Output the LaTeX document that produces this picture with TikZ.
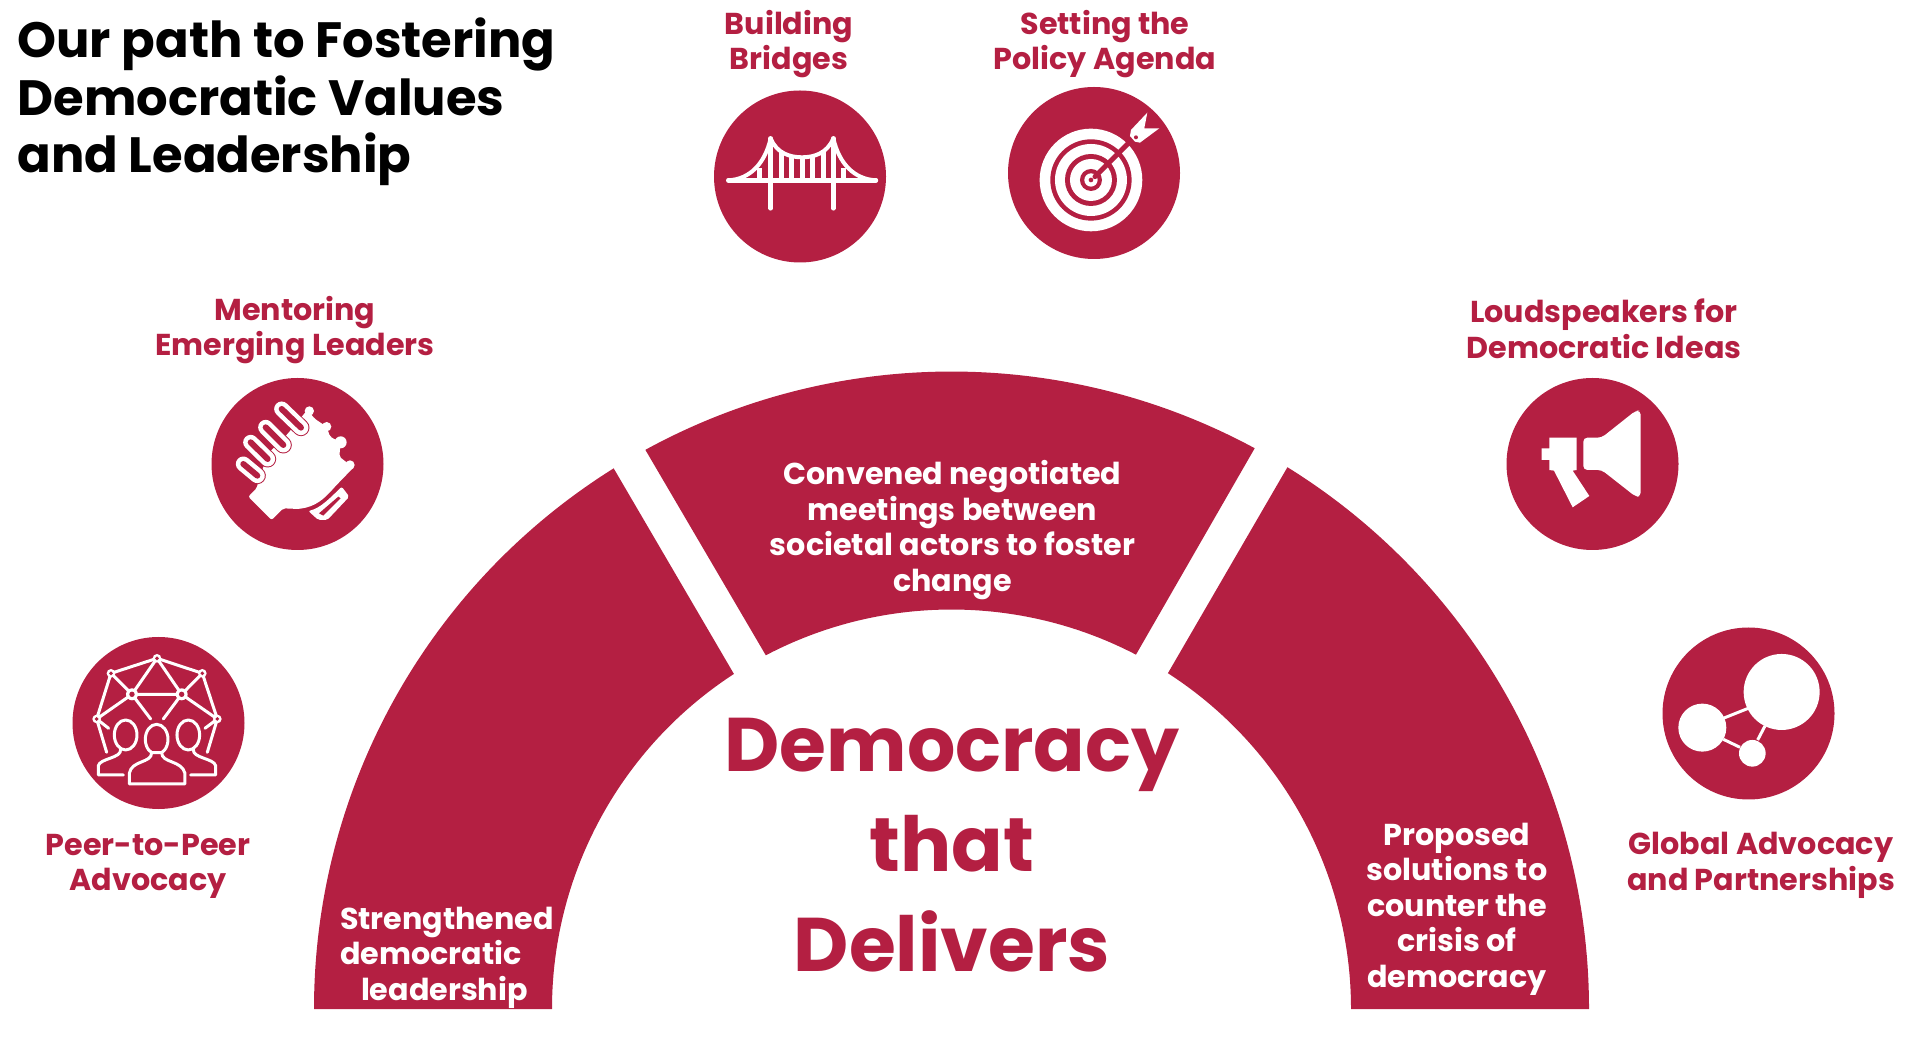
\documentclass[tikz,border=0pt]{standalone}
\usepackage{fontspec}
\usetikzlibrary{calc}
\setmainfont{Poppins}[BoldFont={Poppins Bold}]
\definecolor{wine}{RGB}{180,31,66}
\tikzset{
	band/.style={fill=wine},
	badge/.style={circle,fill=wine,minimum size=172pt,inner sep=0pt},
	caption/.style={text=wine,align=center,font=\fontsize{30.2}{35.5}\selectfont\bfseries},
	bandtext/.style={text=white,align=center,font=\fontsize{30.2}{35.5}\selectfont\bfseries},
	glyph/.style={draw=white,line width=3pt},
	zoomed/.style={x=.3333pt,y=-.3333pt}
}
\begin{document}
\begin{tikzpicture}[x=1pt,y=1pt,line join=round,line cap=round]
	\useasboundingbox (0,0) rectangle (1910,1055);
	\coordinate (c) at (951.5,46);
	% the three bands
	\fill[band] (c)++(61.6:637.5) arc[start angle=61.6,end angle=118.7,radius=637.5]
		-- ($(c)+(117.7:399.5)$) arc[start angle=117.7,end angle=62.5,radius=399.5] -- cycle;
	\fill[band] (c)++(122:637.5) arc[start angle=122,end angle=180,radius=637.5]
		-- ($(c)+(180:399.5)$) arc[start angle=180,end angle=123,radius=399.5] -- cycle;
	\fill[band] (c)++(58.2:637.5) arc[start angle=58.2,end angle=0,radius=637.5]
		-- ($(c)+(0:399.5)$) arc[start angle=0,end angle=57.2,radius=399.5] -- cycle;
	% texts
	\node[anchor=north west,align=left,font=\fontsize{49.6}{57.5}\selectfont\bfseries] (title) at (14,1040.5)
		{Our path to Fostering\\Democratic Values\\and Leadership};
	\node[text=wine,align=center,font=\fontsize{76}{100}\selectfont\bfseries] (core) at (952,210)
		{Democracy\\that\\Delivers};
	\node[bandtext] (met) at (952.5,525) {Convened negotiated\\meetings between\\societal actors to foster\\change};
	\node[bandtext,align=left] (lead) at (447,97.5) {Strengthened\\democratic\\\hspace*{21pt}leadership};
	\node[bandtext] (sol) at (1457,146) {Proposed\\solutions to\\counter the\\crisis of\\democracy};
	\node[caption] (lbridge) at (789,1011) {Building\\Bridges};
	\node[caption] (lagenda) at (1105,1011) {Setting the\\Policy Agenda};
	\node[caption] (lmentor) at (295,725) {Mentoring\\Emerging Leaders};
	\node[caption] (lloud) at (1604,726) {Loudspeakers for\\Democratic Ideas};
	\node[caption] (lpeer) at (148,188.5) {Peer-to-Peer\\Advocacy};
	\node[caption] (lglobal) at (1761,189.5) {Global Advocacy\\and Partnerships};
	% badges
	\foreach \n/\x/\y in {peer/158.5/332,mentor/297.5/591,bridge/800/878.5,agenda/1094/882,loud/1592.5/591,global/1748.5/341.5}
		\node[badge] (\n) at (\x,\y) {};
	% peer icon
	\begin{scope}[shift={(0,455)},zoomed]
		\draw[glyph] (333,220)--(471,175)--(607,220)--(652,357)--(545,283)--(396,283)--(290,357)--cycle;
		\draw[glyph] (333,220)--(396,283)--(471,175)--(545,283)--(607,220);
		\draw[glyph] (396,283)--(452,357) (545,283)--(490,357) (290,357)--(326,385) (652,357)--(615,385)
			(290,357)--(320,457) (652,357)--(622,457);
		\foreach \x/\y/\r in {471/175/13,333/220/13,607/220/13,290/357/13,652/357/13,396/283/18,545/283/18}{
			\fill[white] (\x,\y) circle[radius=\r];
			\fill[wine] (\x,\y) circle[radius=\r*.45];
		}
		\foreach \x/\y in {377/405,565/405,470/418}
			\draw[glyph,fill=wine] (\x,\y) ellipse[x radius=34,y radius=45];
		\draw[glyph] (370,525)--(295,525)--(295,497) .. controls (300,475) and (365,475) .. (362,448);
		\draw[glyph] (572,525)--(647,525)--(647,497) .. controls (642,475) and (577,475) .. (580,448);
		\draw[glyph,fill=wine] (388,552)--(555,552)--(555,520) .. controls (545,480) and (485,490) .. (485,458)
			-- (455,458) .. controls (455,490) and (395,480) .. (388,520) -- cycle;
	\end{scope}
	% mentor icon
	\begin{scope}[shift={(220,670)},zoomed]
		\fill[white,rounded corners=2pt] (85,335)--(110,310)--(120,270)--(150,200)--(200,150)--(262,75)--(285,102)--(320,125)--(330,155)--(362,172)
			--(358,215)--(390,240)--(403,245)--(345,305) .. controls (310,345) and (285,365) .. (235,372)
			--(190,370)--(155,405)--cycle;
		\foreach \x/\y/\r in {268/78/14,320/125/14,362/172/18,390/240/14}
			\fill[white] (\x,\y) circle[radius=\r];
		\def\rings{70/237/112/272,92/172/143/222,137/127/190/180,185/72/243/128}
		\foreach \a/\b/\c/\d in \rings
			\draw[wine,line width=17pt] (\a,\b)--(\c,\d);
		\foreach \a/\b/\c/\d in \rings
			\draw[white,line width=15pt] (\a,\b)--(\c,\d);
		\foreach \a/\b/\c/\d in \rings
			\draw[wine,line width=6pt] (\a,\b)--(\c,\d);
		\fill[white,rounded corners=2pt] (265,378) .. controls (300,370) and (330,340) .. (365,305)--(388,335)--(322,405)--(295,405)--cycle;
		\fill[wine] (297,385)--(355,335)--(362,340)--(310,392)--cycle;
	\end{scope}
	% bridge icon
	\begin{scope}[shift={(700,985)},zoomed]
		\foreach \x/\y in {178/295,243/245,275/258,306/262,338/258,370/245,432/295}
			\draw[white,line width=5pt,line cap=butt] (\x,\y)--(\x,331);
		\draw[glyph,line width=4.5pt] (85,331)--(528,331) (212,205)--(212,415) (400,205)--(400,415);
		\draw[glyph,line width=4pt] (85,331) .. controls (150,328) and (195,280) .. (212,205)
			.. controls (230,250) and (270,262) .. (306,262) .. controls (342,262) and (382,250) .. (400,205)
			.. controls (417,280) and (462,328) .. (528,331);
	\end{scope}
	% target icon
	\begin{scope}[shift={(700,985)},zoomed]
		\foreach \r/\k in {154/white,122/wine,108/white,78/wine,63/white,33/wine,20/white,7/wine}
			\fill[\k] (1173,330) circle[radius=\r];
		\draw[wine,line width=5pt] (1185,320)--(1295,210);
		\fill[white] (1342,128)--(1333,175)--(1378,175)--(1320,218)--(1305,215)--(1290,198)--(1293,180)--cycle;
		\fill[wine] (1308,202) circle[radius=6];
	\end{scope}
	% loud icon
	\begin{scope}[shift={(1490,685)},zoomed]
		\fill[white] (178,203)--(260,203)--(260,300)--(248,302)--(298,378)--(248,412)--(192,302)--(178,300)
			--(178,270)--(155,270)--(155,235)--(178,235)--cycle;
		\fill[white,rounded corners=4pt] (280,203)--(335,203)--(437,122)--(452,122)--(452,380)--(437,380)--(335,300)--(280,300)--cycle;
	\end{scope}
	% global icon
	\begin{scope}[shift={(1490,685)},zoomed]
		\fill[white] (875,966) circle[radius=114] (637,1073) circle[radius=72] (787,1150) circle[radius=40];
		\draw[glyph,line cap=butt] (700,1045)--(775,1015) (700,1108)--(750,1132) (803,1110)--(825,1068);
	\end{scope}
\end{tikzpicture}
\end{document}
